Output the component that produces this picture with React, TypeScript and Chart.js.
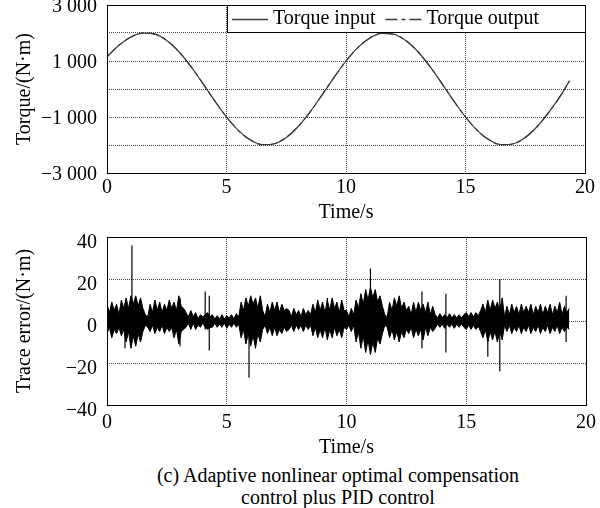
import React, { useEffect, useRef } from "react";
import { Chart, registerables } from "chart.js";

Chart.register(...registerables);

const FONT = "'Liberation Serif', 'Times New Roman', Times, serif";

// ---------- Top chart: torque ----------
const torqueTimes = [
  0, 0.5, 1, 1.5, 2, 2.5, 3, 3.5, 4, 4.5, 5, 5.5, 6, 6.5, 7, 7.5, 8, 8.5, 9, 9.5,
  10, 10.5, 11, 11.5, 12, 12.5, 13, 13.5, 14, 14.5, 15, 15.5, 16, 16.5, 17, 17.5, 18, 18.5, 19, 19.35,
];
const torqueInput = [
  1150, 1560, 1860, 1995, 1960, 1735, 1340, 815, 210, -415, -1000, -1485, -1825, -1990, -1955, -1730, -1340, -815, -210, 415,
  1000, 1485, 1825, 1990, 1955, 1730, 1340, 815, 210, -415, -1000, -1485, -1825, -1990, -1955, -1730, -1340, -815, -210, 290,
];
const torqueOutput = [
  1150, 1560, 1860, 1995, 1960, 1735, 1340, 815, 210, -415, -1000, -1485, -1825, -1990, -1955, -1730, -1340, -815, -210, 415,
  1000, 1485, 1825, 1990, 1955, 1730, 1340, 815, 210, -415, -1000, -1485, -1825, -1990, -1955, -1730, -1340, -815, -210, 290,
];
const torqueSeriesLabels = ["Torque input", "Torque output"];
const torqueTickValues = [-3000, -2000, -1000, 0, 1000, 2000, 3000];
const torqueTickLabels = ["\u22123 000", "", "\u22121 000", "", "1 000", "", "3 000"];
const torqueAxisTitle = "Torque/(N\u00b7m)";

// ---------- shared x axis ----------
const timeTickValues = [0, 5, 10, 15, 20];
const timeTickLabels = ["0", "5", "10", "15", "20"];
const timeAxisTitle = "Time/s";

// ---------- Bottom chart: trace error (envelope of the dense noise band) ----------
const errorTimes = [
  0, 0.1, 0.2, 0.3, 0.4, 0.5, 0.6, 0.7, 0.8, 0.9,
  1, 1.1, 1.2, 1.3, 1.4, 1.5, 1.6, 1.7, 1.8, 1.9,
  2, 2.1, 2.2, 2.3, 2.4, 2.5, 2.6, 2.7, 2.8, 2.9,
  3, 3.1, 3.2, 3.3, 3.4, 3.5, 3.6, 3.7, 3.8, 3.9,
  4, 4.1, 4.2, 4.3, 4.4, 4.5, 4.6, 4.7, 4.8, 4.9,
  5, 5.1, 5.2, 5.3, 5.4, 5.5, 5.6, 5.7, 5.8, 5.9,
  6, 6.1, 6.2, 6.3, 6.4, 6.5, 6.6, 6.7, 6.8, 6.9,
  7, 7.1, 7.2, 7.3, 7.4, 7.5, 7.6, 7.7, 7.8, 7.9,
  8, 8.1, 8.2, 8.3, 8.4, 8.5, 8.6, 8.7, 8.8, 8.9,
  9, 9.1, 9.2, 9.3, 9.4, 9.5, 9.6, 9.7, 9.8, 9.9,
  10, 10.1, 10.2, 10.3, 10.4, 10.5, 10.6, 10.7, 10.8, 10.9,
  11, 11.1, 11.2, 11.3, 11.4, 11.5, 11.6, 11.7, 11.8, 11.9,
  12, 12.1, 12.2, 12.3, 12.4, 12.5, 12.6, 12.7, 12.8, 12.9,
  13, 13.1, 13.2, 13.3, 13.4, 13.5, 13.6, 13.7, 13.8, 13.9,
  14, 14.1, 14.2, 14.3, 14.4, 14.5, 14.6, 14.7, 14.8, 14.9,
  15, 15.1, 15.2, 15.3, 15.4, 15.5, 15.6, 15.7, 15.8, 15.9,
  16, 16.1, 16.2, 16.3, 16.4, 16.5, 16.6, 16.7, 16.8, 16.9,
  17, 17.1, 17.2, 17.3, 17.4, 17.5, 17.6, 17.7, 17.8, 17.9,
  18, 18.1, 18.2, 18.3, 18.4, 18.5, 18.6, 18.7, 18.8, 18.9,
  19, 19.1, 19.2, 19.3,
];
const errorUpper = [
  8, 4, 9, 5, 8, 3, 10, 6,
  11, 6, 12, 8, 12, 7, 11, 6,
  3, 2,
  8, 4, 10, 5, 9, 4, 8, 5, 10, 6, 9, 5, 12, 7, 6,
  4, 2, 5, 2, 4, 1, 3, 2,
  3, 4, 2,
  3, 1, 2.5, 1, 3, 1, 2.5, 1.5, 3, 1, 3.5, 2,
  9, 5, 11, 7, 12, 8, 11, 6, 12, 5,
  2,
  8, 4, 9, 5, 9, 4, 8, 5, 6,
  5, 2, 6, 3, 5, 2, 6, 3, 5, 3,
  8, 4, 10, 5, 9, 4, 10, 5, 11, 6, 9, 4, 10, 5,
  5, 2, 6, 3,
  10, 6, 13, 8, 15, 10, 16, 11, 15, 9, 12, 7,
  3, 2,
  9, 5, 11, 7, 12, 6, 9, 5,
  7, 3, 9, 4, 9, 5, 8, 4, 9, 3, 7,
  3, 1.5, 3.5, 1.5, 3, 1.5, 3.5, 1.5, 3, 1.5, 3, 1.5, 3,
  4, 2, 4, 2, 4, 2.5, 5,
  8, 4, 10, 5, 10, 6, 9, 5, 11,
  2,
  7, 3, 8, 4, 7, 3, 8, 4, 7, 4, 8, 3, 7, 4, 8, 3, 7, 4, 8, 3, 7, 4, 9, 3, 7, 4,
  6,
];
const errorLower = [
  -6, -3, -8, -4, -6, -3, -7, -4,
  -10, -5, -13, -7, -12, -6, -10, -5,
  -2, -3,
  -5, -2, -6, -3, -5, -2, -6, -3, -5, -3, -8, -4, -11, -5, -4,
  -3, -1, -4, -1, -4, -2, -3, -1,
  -3, -4, -3,
  -3, -1, -3, -1.5, -3, -1, -3.5, -1.5, -3, -1, -3, -1.5,
  -8, -4, -11, -6, -12, -7, -13, -6, -10, -4,
  -2,
  -6, -3, -7, -3, -7, -4, -6, -3, -5,
  -4, -2, -5, -2, -4, -2, -5, -2, -4, -2,
  -7, -3, -8, -4, -8, -3, -9, -4, -8, -3, -7, -4, -8, -3,
  -4, -2, -5, -2,
  -10, -5, -13, -7, -15, -9, -16, -10, -15, -8, -11, -6,
  -2, -3,
  -8, -4, -9, -5, -10, -5, -8, -4,
  -6, -3, -8, -4, -7, -4, -9, -3, -7, -3, -5,
  -3.5, -1.5, -3, -1.5, -3.5, -1.5, -3, -1.5, -3.5, -1.5, -3, -1.5, -3,
  -4, -2, -4, -2, -4, -2.5, -5,
  -8, -4, -10, -5, -9, -5, -10, -5, -9,
  -2,
  -5, -2, -6, -3, -5, -2, -6, -3, -5, -2, -6, -3, -5, -2, -6, -3, -5, -2, -6, -3, -5, -2, -6, -3, -5, -3,
  -4,
];
// isolated spikes
const spikeTimes = [0.75, 1.04, 3.05, 4.1, 4.27, 5.93, 9.2, 11.0, 13.15, 14.15, 15.9, 16.4, 19.17];
const spikeHigh = [3, 36, 11, 14, 12, 8, 11, 25, 14, 13, 6, 20, 12];
const spikeLow = [-13, -4, -12, -4, -14, -27, -5, -10, -13, -15, -17, -24, -10];

const errorTickValues = [-40, -20, 0, 20, 40];
const errorTickLabels = ["\u221240", "\u221220", "0", "20", "40"];
const errorAxisTitle = "Trace error/(N\u00b7m)";

const captionLines = ["(c) Adaptive nonlinear optimal compensation", "control plus PID control"];

// ---------- plugins ----------
const framePlugin = {
  id: "frameBox",
  afterDatasetsDraw(chart: any) {
    const { ctx, chartArea: a } = chart;
    ctx.save();
    ctx.strokeStyle = "#000";
    ctx.lineWidth = 1;
    ctx.setLineDash([]);
    const l = Math.round(a.left) + 0.5;
    const t = Math.round(a.top) + 0.5;
    ctx.strokeRect(l, t, Math.round(a.right) - Math.round(a.left), Math.round(a.bottom) - Math.round(a.top));
    ctx.restore();
  },
};

const boxLegendPlugin = {
  id: "boxLegend",
  afterDraw(chart: any) {
    const { ctx, chartArea: a } = chart;
    const boxW = 358;
    const boxH = 27;
    const left = Math.round(a.right) - boxW;
    const top = Math.round(a.top);
    ctx.save();
    ctx.fillStyle = "#fff";
    ctx.fillRect(left, top, boxW, boxH);
    ctx.strokeStyle = "#000";
    ctx.lineWidth = 1;
    ctx.setLineDash([]);
    ctx.strokeRect(left + 0.5, top + 0.5, boxW, boxH);
    const cy = top + 14;
    let cx = left + 5;
    ctx.font = `20px ${FONT}`;
    ctx.textBaseline = "middle";
    ctx.textAlign = "left";
    chart.data.datasets.forEach((ds: any) => {
      ctx.strokeStyle = ds.borderColor;
      ctx.lineWidth = 1.3;
      ctx.setLineDash(ds.borderDash || []);
      ctx.beginPath();
      ctx.moveTo(cx, cy + 0.5);
      ctx.lineTo(cx + 36, cy + 0.5);
      ctx.stroke();
      ctx.setLineDash([]);
      cx += 41;
      ctx.fillStyle = "#000";
      ctx.fillText(ds.label, cx, cy);
      cx += ctx.measureText(ds.label).width + 10;
    });
    ctx.restore();
  },
};

const tickFont = { family: FONT, size: 20 };

function xScale(height: number, tickPad: number, titlePadBottom: number) {
  return {
    type: "linear" as const,
    min: 0,
    max: 20,
    afterBuildTicks: (s: any) => {
      s.ticks = timeTickValues.map((value) => ({ value }));
    },
    afterFit: (s: any) => {
      s.height = height;
      s.paddingLeft = 0;
      s.paddingRight = 0;
    },
    grid: { color: "#444", lineWidth: 1, drawTicks: false },
    border: { display: false, dash: [1, 1] },
    ticks: {
      color: "#000",
      font: tickFont,
      padding: tickPad,
      maxRotation: 0,
      autoSkip: false,
      callback: (_v: any, i: number) => timeTickLabels[i],
    },
    title: {
      display: true,
      text: timeAxisTitle,
      color: "#000",
      font: tickFont,
      padding: { top: 0, bottom: titlePadBottom },
    },
  };
}

function yScale(min: number, max: number, values: number[], labels: string[], title: string, labelOffset: number) {
  return {
    type: "linear" as const,
    min,
    max,
    afterBuildTicks: (s: any) => {
      s.ticks = values.map((value) => ({ value }));
    },
    afterFit: (s: any) => {
      s.width = 107;
      s.paddingTop = 0;
      s.paddingBottom = 0;
    },
    grid: { color: "#444", lineWidth: 1, drawTicks: false },
    border: { display: false, dash: [1, 1] },
    ticks: {
      color: "#000",
      font: tickFont,
      padding: 10,
      labelOffset,
      autoSkip: false,
      callback: (_v: any, i: number) => labels[i],
    },
    title: {
      display: true,
      text: title,
      color: "#000",
      font: tickFont,
      padding: { top: 13, bottom: 0 },
    },
  };
}

function zip(xs: number[], ys: number[]) {
  const n = Math.min(xs.length, ys.length);
  const out: { x: number; y: number }[] = [];
  for (let i = 0; i < n; i++) out.push({ x: xs[i], y: ys[i] });
  return out;
}

export default function App() {
  const topRef = useRef<HTMLCanvasElement | null>(null);
  const botRef = useRef<HTMLCanvasElement | null>(null);

  useEffect(() => {
    Chart.defaults.font.family = FONT;
    const top = new Chart(topRef.current as HTMLCanvasElement, {
      type: "line",
      data: {
        datasets: [
          {
            label: torqueSeriesLabels[0],
            data: zip(torqueTimes, torqueInput),
            borderColor: "#3a3a3a",
            borderWidth: 1.2,
            pointRadius: 0,
            cubicInterpolationMode: "monotone",
            fill: false,
          },
          {
            label: torqueSeriesLabels[1],
            data: zip(torqueTimes, torqueOutput),
            borderColor: "#3a3a3a",
            borderWidth: 1.2,
            borderDash: [12, 4, 4, 4],
            pointRadius: 0,
            cubicInterpolationMode: "monotone",
            fill: false,
          },
        ],
      },
      options: {
        responsive: false,
        maintainAspectRatio: false,
        animation: false,
        events: [],
        layout: { padding: { left: 0, right: 15, top: 5, bottom: 0 } },
        plugins: { legend: { display: false }, tooltip: { enabled: false } },
        scales: {
          x: xScale(57, 3, 5),
          y: yScale(-3000, 3000, torqueTickValues, torqueTickLabels, torqueAxisTitle, 2),
        },
      },
      plugins: [framePlugin, boxLegendPlugin],
    } as any);

    const spikeData: { x: number; y: number | null }[] = [];
    spikeTimes.forEach((t, i) => {
      spikeData.push({ x: t, y: spikeHigh[i] });
      spikeData.push({ x: t, y: spikeLow[i] });
      spikeData.push({ x: t, y: null });
    });

    const bot = new Chart(botRef.current as HTMLCanvasElement, {
      type: "line",
      data: {
        datasets: [
          {
            label: "upper",
            data: zip(errorTimes, errorUpper),
            borderColor: "#000",
            backgroundColor: "#000",
            borderWidth: 1,
            pointRadius: 0,
            tension: 0,
            fill: "+1",
          },
          {
            label: "lower",
            data: zip(errorTimes, errorLower),
            borderColor: "#000",
            borderWidth: 1,
            pointRadius: 0,
            tension: 0,
            fill: false,
          },
          {
            label: "spikes",
            data: spikeData,
            borderColor: "#000",
            borderWidth: 1.2,
            pointRadius: 0,
            spanGaps: false,
            fill: false,
          },
        ],
      },
      options: {
        responsive: false,
        maintainAspectRatio: false,
        animation: false,
        events: [],
        layout: { padding: { left: 0, right: 14, top: 7, bottom: 0 } },
        plugins: { legend: { display: false }, tooltip: { enabled: false } },
        scales: {
          x: xScale(55, 6, 0),
          y: yScale(-40, 40, errorTickValues, errorTickLabels, errorAxisTitle, 6),
        },
      },
      plugins: [framePlugin],
    } as any);

    return () => {
      top.destroy();
      bot.destroy();
    };
  }, []);

  return (
    <div
      style={{
        position: "absolute",
        left: 0,
        top: 0,
        width: 600,
        height: 508,
        background: "#fff",
        overflow: "hidden",
      }}
    >
      <canvas ref={topRef} width={600} height={230} style={{ position: "absolute", left: 0, top: 0 }} />
      <canvas ref={botRef} width={600} height={230} style={{ position: "absolute", left: 0, top: 230 }} />
      <div
        style={{
          position: "absolute",
          left: 99,
          width: 478,
          top: 464,
          textAlign: "center",
          fontFamily: FONT,
          fontSize: 20,
          lineHeight: "22px",
          color: "#000",
        }}
      >
        {captionLines.map((line) => (
          <div key={line}>{line}</div>
        ))}
      </div>
    </div>
  );
}
